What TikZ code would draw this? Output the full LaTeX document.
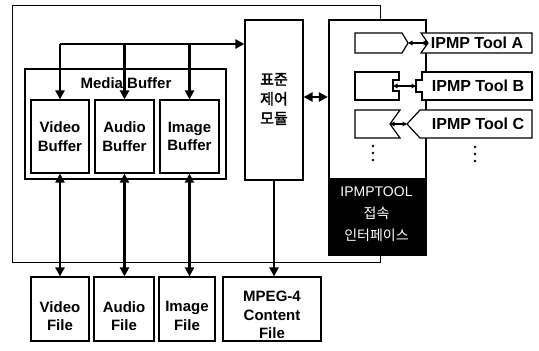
\documentclass[tikz,border=0pt]{standalone}
\usepackage{fontspec}
\setmainfont{Liberation Sans}
\newfontfamily\kr{Noto Sans CJK KR}
\newfontfamily\krb[FakeBold=2.5]{Noto Sans CJK KR}
\usetikzlibrary{arrows.meta}
\begin{document}
\begin{tikzpicture}[x=1pt,y=-1pt,
  txt/.style={font=\bfseries\fontsize{15}{18.5}\selectfont, align=center, inner sep=0pt},
  box/.style={draw, line width=1.2pt, fill=white, inner sep=0pt},
  arr/.style={line width=2.8pt, -{Triangle[width=9pt,length=9pt]}},
  darr/.style={line width=2.8pt, {Triangle[width=9pt,length=9pt]}-{Triangle[width=9pt,length=9pt]}},
  sarr/.style={line width=1.4pt, {Triangle[width=4.5pt,length=4.5pt]}-{Triangle[width=4.5pt,length=4.5pt]}},
  plug/.style={draw, line width=1.2pt, fill=white},
  dot/.style={circle, fill=black, inner sep=0pt, minimum size=2.6pt}
]
\useasboundingbox (0,0) rectangle (539,351);
\fill[white] (0,0) rectangle (539,351);

% outer frame
\draw[line width=1pt] (12,5) rectangle (380,262);

% media buffer group
\draw[line width=1.2pt] (25,69) rectangle (226,179);
\node[txt] (mbl) at (126,83) {Media Buffer};

\node[box, minimum width=58pt, minimum height=73pt] (vb) at (60,136.5) {};
\node[box, minimum width=59pt, minimum height=73pt] (ab) at (124.5,136.5) {};
\node[box, minimum width=59pt, minimum height=73pt] (ib) at (189.5,136.5) {};
\node[txt] (vbt) at (vb) {Video\\Buffer};
\node[txt] (abt) at (ab) {Audio\\Buffer};
\node[txt] (ibt) at (ib) {Image\\Buffer};

% control module
\node[box, minimum width=58pt, minimum height=160pt] (ctrl) at (274,100) {};
\node[txt, font=\krb\fontsize{15}{19.5}\selectfont] (ctrlt) at (274,99) {표준\\제어\\모듈};

% IPMP interface box
\node[draw, line width=2.2pt, fill=white, minimum width=97pt, minimum height=235pt, inner sep=0pt] (ipmp) at (377.5,137.5) {};
\node[fill=black, minimum width=97pt, minimum height=78pt, inner sep=0pt, anchor=south] (ipmpi) at (ipmp.south) {};
\node[text=white, align=center, inner sep=0pt, font=\fontsize{14}{22}\selectfont] (ipmpt) at (376.5,214.5) {IPMPTOOL\\{\kr\fontsize{14}{22}\selectfont 접속}\\{\kr\fontsize{14}{22}\selectfont 인터페이스}};

% plugs (sockets and tools)
\draw[plug] (355,33) -- (402,33) -- (408,43) -- (402,53) -- (355,53) -- cycle;
\draw[plug] (421,33) -- (532,33) -- (532,53) -- (421,53) -- (428,43) -- cycle;
\node[txt, font=\bfseries\fontsize{16}{18}\selectfont] (ta) at (477,43) {IPMP Tool A};
\coordinate (sa) at (408,43);
\coordinate (pa) at (428,43);
\draw[sarr] (sa) -- (pa);

\draw[plug] (355,72) -- (399,72) -- (399,80) -- (393,80) -- (393,91) -- (399,91) -- (399,100) -- (355,100) -- cycle;
\draw[plug] (422,72) -- (532,72) -- (532,100) -- (422,100) -- (422,92) -- (416,92) -- (416,80) -- (422,80) -- cycle;
\node[txt, font=\bfseries\fontsize{16}{18}\selectfont] (tb) at (478,86) {IPMP Tool B};
\coordinate (sb) at (393,86);
\coordinate (pb) at (416,86);
\draw[sarr] (sb) -- (pb);

\draw[plug] (355,110) -- (400,110) -- (390,124) -- (400,138) -- (355,138) -- cycle;
\draw[plug] (420,110) -- (532,110) -- (532,138) -- (420,138) -- (407,124) -- cycle;
\node[txt, font=\bfseries\fontsize{16}{18}\selectfont] (tc) at (478,124) {IPMP Tool C};
\coordinate (sc) at (390,124);
\coordinate (pc) at (407,124);
\draw[sarr] (sc) -- (pc);

% continuation dots
\node[dot] (d1) at (373,146) {};
\node[dot] (d2) at (373,153) {};
\node[dot] (d3) at (373,160) {};
\node[dot] (d4) at (475,147) {};
\node[dot] (d5) at (475,154) {};
\node[dot] (d6) at (475,161) {};

% files
\node[box, minimum width=58pt, minimum height=64pt] (vf) at (60,309) {};
\node[box, minimum width=60pt, minimum height=64pt] (af) at (124,309) {};
\node[box, minimum width=56pt, minimum height=64pt] (imf) at (187,309) {};
\node[box, minimum width=98pt, minimum height=64pt] (mf) at (272,309) {};
\node[txt] (vft) at (60,316) {Video\\File};
\node[txt] (aft) at (124,316) {Audio\\File};
\node[txt] (ift) at (187,316) {Image\\File};
\node[txt] (mft) at (272,315) {MPEG-4\\Content\\File};

% top bus
\coordinate (b1) at (60,44);
\coordinate (b2) at (124.5,44);
\coordinate (b3) at (189.5,44);
\draw[arr] (b1) -- (b1 -| ctrl.west);
\draw[arr] (b1) -- (vb.north);
\draw[arr] (b2) -- (ab.north);
\draw[arr] (b3) -- (ib.north);

% buffer <-> file
\draw[darr] (vb.south) -- (vb.south |- vf.north);
\draw[darr] (ab.south) -- (ab.south |- af.north);
\draw[darr] (ib.south) -- (ib.south |- imf.north);
\draw[arr] (ctrl.south) -- (ctrl.south |- mf.north);

% control <-> IPMP interface
\draw[darr] ([yshift=3pt]ctrl.east) -- ([yshift=3pt]ctrl.east -| ipmp.west);
\end{tikzpicture}
\end{document}
